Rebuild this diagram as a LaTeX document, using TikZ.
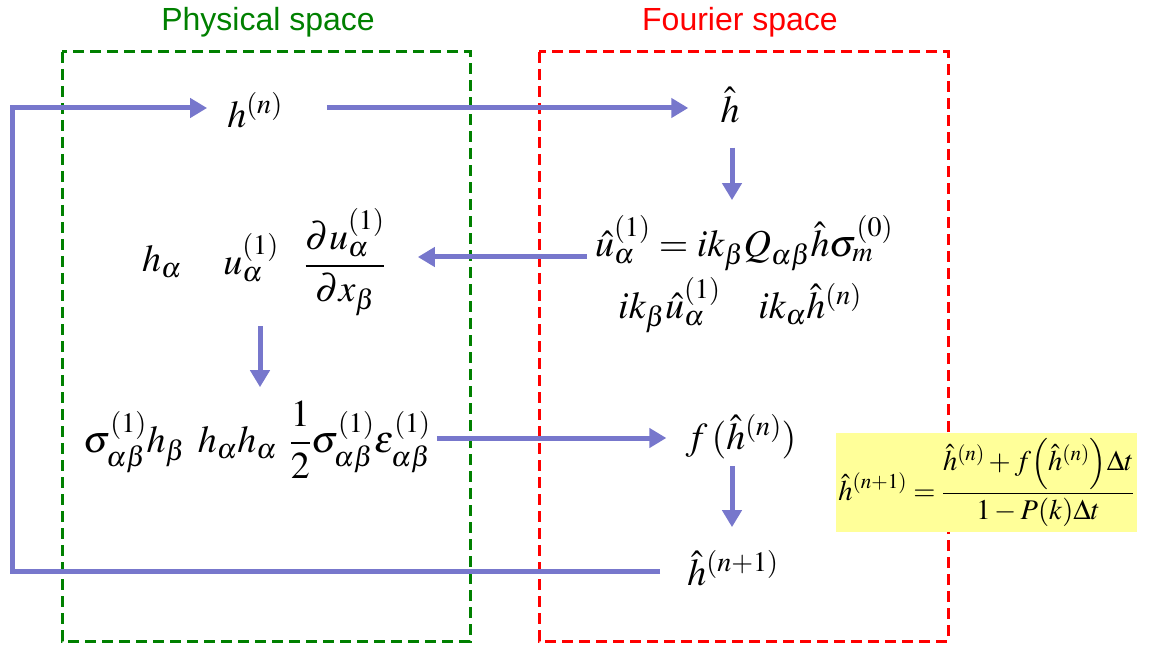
\documentclass[tikz,border=0pt]{standalone}
\usepackage{amsmath}
\usepackage{mathptmx}
\usepackage[no-math]{fontspec}
\newfontfamily\labfont{Liberation Sans}
\usetikzlibrary{arrows.meta}
\definecolor{arrblue}{HTML}{7777CC}
\definecolor{physgreen}{HTML}{008000}
\definecolor{fourred}{HTML}{FF0000}
\definecolor{yel}{HTML}{FFFF99}
\tikzset{
  lab/.style={font=\labfont\fontsize{32}{35}\selectfont, inner sep=0pt},
  mth/.style={font=\fontsize{38}{42}\selectfont, inner sep=0pt},
  arr/.style={draw=arrblue, line width=5pt, -{Triangle[length=17pt,width=19pt]}},
  frame/.style={line width=3pt, dash pattern=on 11pt off 6pt},
}
\begin{document}
\begin{tikzpicture}[x=1pt,y=-1pt]
\useasboundingbox (0,0) rectangle (1152,647);
% frames
\draw[frame, physgreen] (62,52) rectangle (470,641);
\draw[frame, fourred] (539,52) rectangle (948,641);
\node[lab, text=physgreen] (phys) at (268,22) {Physical space};
\node[lab, text=fourred] (four) at (740,22) {Fourier space};
% nodes
\node[mth] (hn) at (255,110) {$h^{(n)}$};
\node[mth] (hhat) at (730,105) {$\hat h$};
\node[mth] (ueq) at (744,243) {$\hat u^{(1)}_\alpha = ik_\beta Q_{\alpha\beta}\hat h\sigma^{(0)}_m$};
\node[mth] (ik) at (740,305) {$ik_\beta\hat u^{(1)}_\alpha\quad ik_\alpha\hat h^{(n)}$};
\node[mth] (ha) at (162,262) {$h_\alpha$};
\node[mth] (ua) at (251,258) {$u^{(1)}_\alpha$};
\node[mth] (du) at (345,262) {$\dfrac{\partial u^{(1)}_\alpha}{\partial x_\beta}$};
\node[mth] (row3) at (257,440) {$\sigma^{(1)}_{\alpha\beta}h_\beta\;\, h_\alpha h_\alpha\;\, \dfrac12\sigma^{(1)}_{\alpha\beta}\varepsilon^{(1)}_{\alpha\beta}$};
\node[mth] (fh) at (741,437) {$f\,(\hat h^{(n)})$};
\node[mth] (hn1) at (733,568) {$\hat h^{(n+1)}$};
\node[fill=yel, minimum width=301pt, minimum height=99pt, inner sep=0pt, font=\fontsize{28.5}{31}\selectfont] (upd) at (986.5,482.5)
  {$\displaystyle \hat h^{(n+1)} = \frac{\hat h^{(n)} + f\Bigl(\hat h^{(n)}\Bigr)\Delta t}{1-P(k)\Delta t}$};
% connectors
\coordinate (tl) at (12,108);
\coordinate (bl) at (12,571);
\draw[arr] ([xshift=44pt]hn.east |- tl) -- ([xshift=-32pt]hhat.west |- tl);
\draw[arr] ([yshift=-25pt]hhat.south -| 732,0) -- ([yshift=15pt]ueq.north -| 732,0);
\draw[arr] ([xshift=-8pt]ueq.west |- 0,257) -- ([xshift=32pt]du.east |- 0,257);
\draw[arr] ([yshift=-44pt]ua.south -| 260,0) -- ([yshift=14pt]row3.north -| 260,0);
\draw[arr] ([xshift=6pt]row3.east |- 0,438) -- ([xshift=-19pt]fh.west |- 0,438);
\draw[arr] ([yshift=-7pt]fh.south -| 732,0) -- ([yshift=23pt]hn1.north -| 732,0);
\draw[arr] ([xshift=-27pt]hn1.west |- bl) -- (bl) -- (tl) -- ([xshift=-20pt]hn.west |- tl);
\end{tikzpicture}
\end{document}
